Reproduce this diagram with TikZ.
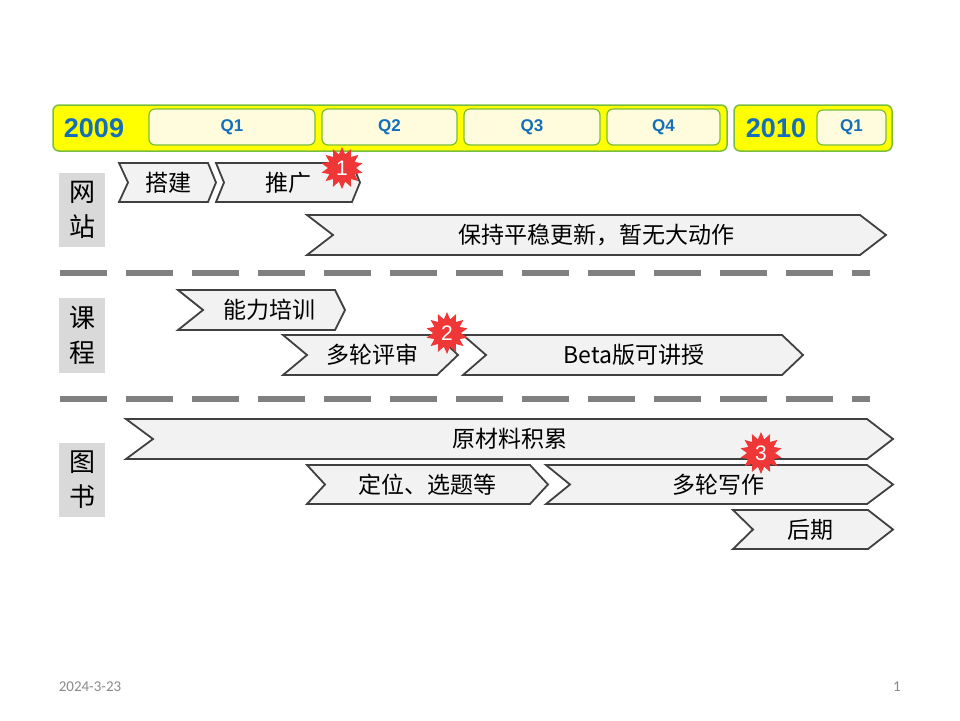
\documentclass[tikz,border=0pt]{standalone}
\usepackage{fontspec}
\setmainfont{Liberation Sans}
\newfontfamily\cjk{Noto Sans CJK SC}
\newfontfamily\footfont{Carlito}
\usetikzlibrary{shapes.geometric}
\definecolor{barYellow}{RGB}{255,255,0}
\definecolor{barGreen}{RGB}{120,190,60}
\definecolor{qFill}{RGB}{255,252,222}
\definecolor{qBlue}{RGB}{20,110,185}
\definecolor{chevFill}{RGB}{242,242,242}
\definecolor{chevLine}{RGB}{64,64,64}
\definecolor{labFill}{RGB}{217,217,217}
\definecolor{dashGray}{RGB}{128,128,128}
\definecolor{starRed}{RGB}{240,55,55}
\definecolor{footGray}{RGB}{137,137,137}
\tikzset{
  yearbar/.style={draw=barGreen, line width=1.5pt, fill=barYellow, rounded corners=6pt},
  qbox/.style={draw=barGreen, line width=1.2pt, fill=qFill, rounded corners=6pt},
  qtext/.style={text=qBlue, font=\fontsize{17}{17}\selectfont\bfseries, inner sep=0pt},
  yeartext/.style={text=qBlue, font=\fontsize{27}{27}\selectfont\bfseries, inner sep=0pt},
  chevbox/.style={draw=chevLine, line width=1.8pt, fill=chevFill, line join=miter},
  chevtext/.style={font=\cjk\fontsize{23}{23}\selectfont, inner sep=0pt, text=black},
  labbox/.style={fill=labFill, draw=none},
  labtext/.style={font=\cjk\fontsize{26}{35}\selectfont, align=center, inner sep=0pt},
  rowsep/.style={draw=dashGray, line width=6pt, dash pattern=on 47pt off 19pt},
  burst/.style={star, star points=14, star point ratio=1.5, minimum size=42pt, inner sep=0pt,
    fill=starRed, draw=none, text=white, font=\fontsize{21}{21}\selectfont},
  foottext/.style={text=footGray, font=\footfont\fontsize{15}{15}\selectfont, inner sep=0pt}
}
\newcommand{\chevshape}[8]{%
  \draw[chevbox] (#2,#4) -- ({#3-#7},#4) -- (#3,{(#4+#5)/2}) -- ({#3-#7},#5) -- (#2,#5) -- ({#2+#6},{(#4+#5)/2}) -- cycle;
  \node[chevtext] (#1) at ({(#2+#6+#3-#7)/2},{(#4+#5)/2}) {#8};
}
\begin{document}
\begin{tikzpicture}[x=1pt,y=-1pt]
\useasboundingbox (0,0) rectangle (960,720);
% year bars
\draw[yearbar] (53,105) rectangle (727,151);
\node[yeartext] (y2009) at (94,128) {2009};
\draw[qbox] (149,109) rectangle (315,145);
\node[qtext] (q1) at (232,127) {Q1};
\draw[qbox] (322,109) rectangle (457,145);
\node[qtext] (q2) at (389.5,127) {Q2};
\draw[qbox] (464,109) rectangle (600,145);
\node[qtext] (q3) at (532,127) {Q3};
\draw[qbox] (607,109) rectangle (720,145);
\node[qtext] (q4) at (663.5,127) {Q4};
\draw[yearbar] (734,105) rectangle (892,151);
\node[yeartext] (y2010) at (776,128) {2010};
\draw[qbox] (817,110) rectangle (886,145);
\node[qtext] (q5) at (851.5,127.5) {Q1};
% row labels
\fill[labbox] (59,173) rectangle (105,247);
\node[labtext] (lab1) at (82,210) {网\\站};
\fill[labbox] (59,298) rectangle (105,373);
\node[labtext] (lab2) at (82,335.5) {课\\程};
\fill[labbox] (59,443) rectangle (105,517);
\node[labtext] (lab3) at (82,480) {图\\书};
% separators
\coordinate (s1a) at (60,273);
\coordinate (s1b) at (870,273);
\draw[rowsep] (s1a) -- (s1b);
\coordinate (s2a) at (60,399);
\coordinate (s2b) at (870,399);
\draw[rowsep] (s2a) -- (s2b);
% website row
\chevshape{c1}{119}{216}{163}{202}{9}{8}{搭建}
\chevshape{c2}{216}{360}{163}{202}{8}{8}{推广}
\chevshape{c3}{307}{886}{215}{255}{26}{26}{保持平稳更新，暂无大动作}
% course row
\chevshape{c4}{178}{345}{290}{330}{25}{10}{能力培训}
\chevshape{c5}{283}{458}{335}{375}{24}{21}{多轮评审}
\chevshape{c6}{463}{803}{335}{375}{23}{21}{Beta版可讲授}
% book row
\chevshape{c7}{126}{893}{419}{459}{27}{26}{原材料积累}
\chevshape{c8}{307}{548}{465}{504}{18}{18}{定位、选题等}
\chevshape{c9}{546}{893}{465}{504}{24}{26}{多轮写作}
\chevshape{c10}{733}{893}{510}{549}{20}{25}{后期}
% bursts
\node[burst] (b1) at (342,168) {1};
\node[burst] (b2) at (447,333) {2};
\node[burst] (b3) at (761,453) {3};
% footer
\node[foottext] (date) at (90,687) {2024-3-23};
\node[foottext] (page) at (897,687) {1};
\end{tikzpicture}
\end{document}
